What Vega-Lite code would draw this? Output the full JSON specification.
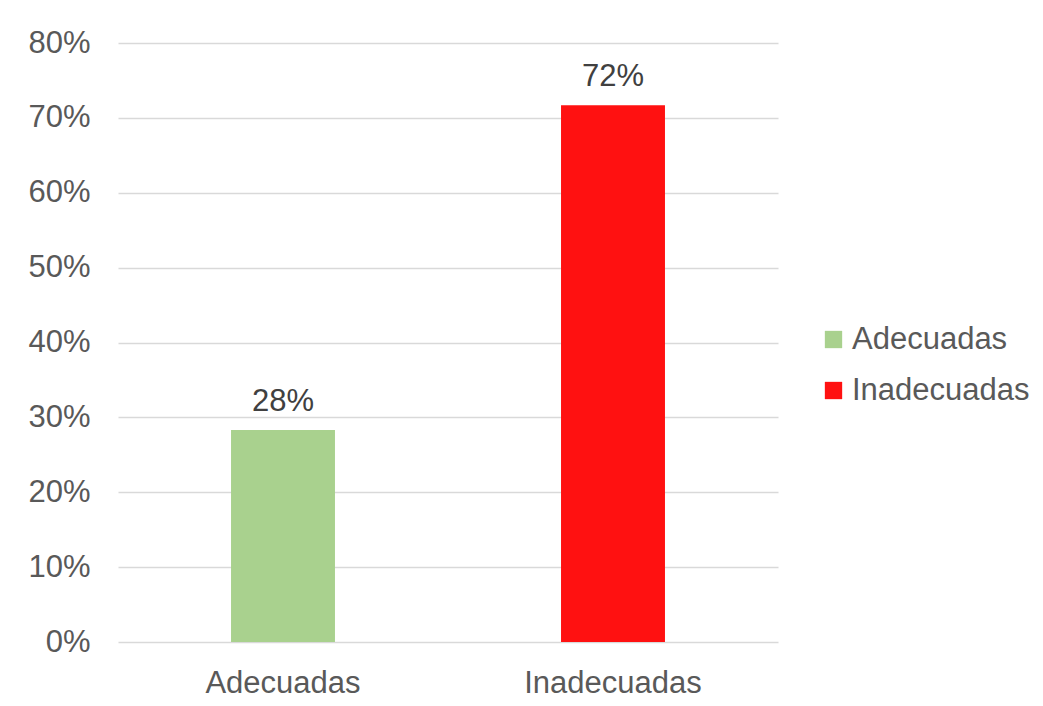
{
  "$schema": "https://vega.github.io/schema/vega-lite/v6.json",
  "width": 660,
  "height": 599,
  "autosize": {"type": "none"},
  "padding": {"left": 118, "top": 43, "right": 265, "bottom": 64},
  "background": "white",
  "config": {
    "font": "Liberation Sans",
    "view": {"stroke": null}
  },
  "data": {
    "values": [
      {"categoria": "Adecuadas", "valor": 0.283},
      {"categoria": "Inadecuadas", "valor": 0.717}
    ]
  },
  "encoding": {
    "x": {
      "field": "categoria",
      "type": "nominal",
      "sort": null,
      "scale": {"paddingInner": 0.685, "paddingOuter": 0.3425},
      "axis": {
        "title": null,
        "labelAngle": 0,
        "labelFontSize": 31,
        "labelColor": "#595959",
        "labelPadding": 26,
        "ticks": false,
        "domain": false
      }
    },
    "y": {
      "field": "valor",
      "type": "quantitative",
      "scale": {"domain": [0, 0.8], "nice": false},
      "axis": {
        "title": null,
        "values": [0, 0.1, 0.2, 0.3, 0.4, 0.5, 0.6, 0.7, 0.8],
        "format": ".0%",
        "labelFontSize": 31,
        "labelColor": "#595959",
        "labelPadding": 28,
        "ticks": false,
        "domain": false,
        "gridColor": "#D9D9D9",
        "gridWidth": 1.5
      }
    }
  },
  "layer": [
    {
      "mark": {"type": "bar"},
      "encoding": {
        "color": {
          "field": "categoria",
          "type": "nominal",
          "sort": null,
          "scale": {"domain": ["Adecuadas", "Inadecuadas"], "range": ["#A9D18E", "#FF1111"]},
          "legend": {
            "title": null,
            "orient": "none",
            "legendX": 700,
            "legendY": 281,
            "symbolType": "square",
            "symbolSize": 300,
            "symbolStrokeWidth": 0,
            "labelFontSize": 31,
            "labelLimit": 400,
            "labelColor": "#595959",
            "labelOffset": 3,
            "rowPadding": 19
          }
        }
      }
    },
    {
      "mark": {"type": "text", "dy": -12, "baseline": "bottom", "fontSize": 31, "color": "#404040"},
      "encoding": {
        "text": {"field": "valor", "type": "quantitative", "format": ".0%"}
      }
    }
  ]
}
